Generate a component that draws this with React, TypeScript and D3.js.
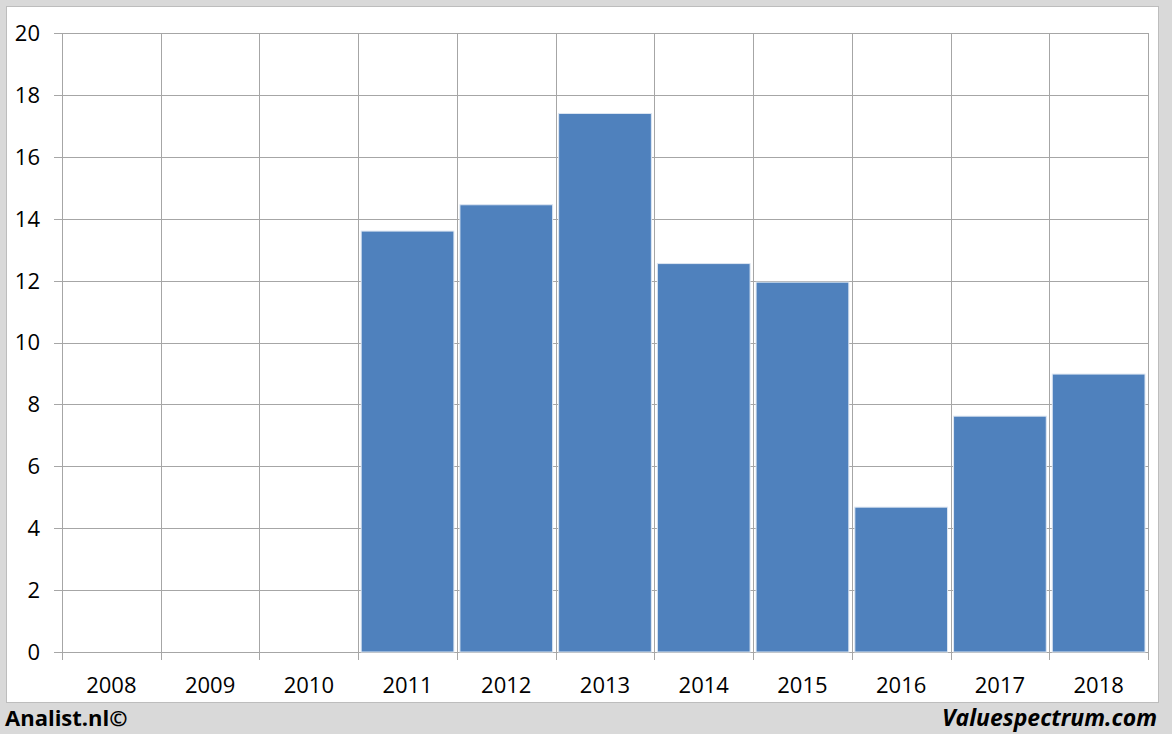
import React from "react";
import * as d3 from "d3";

const years = ["2008", "2009", "2010", "2011", "2012", "2013", "2014", "2015", "2016", "2017", "2018"];
const values: (number | null)[] = [null, null, null, 13.6, 14.45, 17.4, 12.55, 11.95, 4.68, 7.62, 8.98];
const yTicks = [0, 2, 4, 6, 8, 10, 12, 14, 16, 18, 20];

const W = 1172;
const H = 734;
const plot = { left: 62, right: 1148, top: 33, bottom: 652 };

export default function App() {
  const x = d3.scaleBand<string>().domain(years).range([plot.left, plot.right]).paddingInner(0).paddingOuter(0);
  const y = d3.scaleLinear().domain([0, 20]).range([plot.bottom, plot.top]);
  const bw = x.bandwidth();
  const barPad = 3;
  const font = "'Open Sans', 'Liberation Sans', sans-serif";
  const boundaries = [...years.map((yr) => x(yr) as number), plot.right];

  return (
    <svg width={W} height={H} style={{ position: "absolute", left: 0, top: 0 }}>
      <rect x={0} y={0} width={W} height={H} fill="#d9d9d9" />
      <rect x={6.5} y={6.5} width={1152} height={696} fill="#ffffff" stroke="#bdbdbd" strokeWidth={1} />
      {yTicks.map((t) => (
        <line key={"h" + t} x1={54} x2={plot.right} y1={Math.round(y(t)) + 0.5} y2={Math.round(y(t)) + 0.5} stroke="#a6a6a6" strokeWidth={1} />
      ))}
      {boundaries.map((b, i) => (
        <line key={"v" + i} x1={Math.round(b) + 0.5} x2={Math.round(b) + 0.5} y1={plot.top} y2={660} stroke="#a6a6a6" strokeWidth={1} />
      ))}
      {years.map((yr, i) => {
        const v = values[i];
        if (v == null) return null;
        const x0 = (x(yr) as number) + barPad;
        return (
          <rect key={yr} x={x0} y={y(v)} width={bw - 2 * barPad} height={y(0) - y(v)} fill="#4f81bd" stroke="#dce6f2" strokeWidth={1} />
        );
      })}
      {yTicks.map((t) => (
        <text key={"yl" + t} x={40} y={y(t)} dy="0.36em" textAnchor="end" fontFamily={font} fontSize={22} fill="#000">
          {t}
        </text>
      ))}
      {years.map((yr) => (
        <text key={"xl" + yr} x={(x(yr) as number) + bw / 2} y={693} textAnchor="middle" fontFamily={font} fontSize={22} fill="#000">
          {yr}
        </text>
      ))}
      <text x={5} y={726} fontFamily={font} fontSize={22} fontWeight="bold" fill="#000">
        Analist.nl©
      </text>
      <text x={1157} y={726} textAnchor="end" fontFamily={font} fontSize={23} fontWeight="bold" fontStyle="italic" fill="#000">
        Valuespectrum.com
      </text>
    </svg>
  );
}
